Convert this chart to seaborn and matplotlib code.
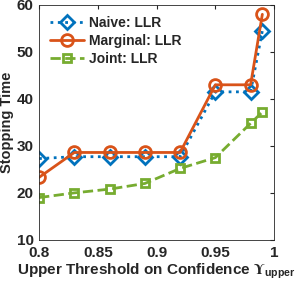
import pandas as pd
import matplotlib.pyplot as plt
import seaborn as sns

# Values
thresholds = [0.80, 0.83, 0.86, 0.89, 0.92, 0.95, 0.98, 0.99]
naive_llr = [27.3, 27.7, 27.7, 27.7, 27.7, 41.5, 41.5, 54.5]
marginal_llr = [23.3, 28.6, 28.6, 28.6, 28.6, 43.0, 43.0, 58.0]
joint_llr = [19.0, 20.0, 20.8, 22.0, 25.2, 27.5, 34.8, 37.2]

series = {
    'Naive: LLR': naive_llr,
    'Marginal: LLR': marginal_llr,
    'Joint: LLR': joint_llr,
}
styles = {
    'Naive: LLR': dict(color=(0.0, 0.447, 0.741), marker='D', linestyle=':', markersize=7.5),
    'Marginal: LLR': dict(color=(0.85, 0.325, 0.098), marker='o', linestyle='-', markersize=8.5),
    'Joint: LLR': dict(color=(0.466, 0.674, 0.188), marker='s', linestyle='--', markersize=6),
}

sns.set_style('white')
plt.rcParams['font.family'] = ['Liberation Sans', 'DejaVu Sans']
plt.rcParams['font.weight'] = 'bold'
plt.rcParams['mathtext.fontset'] = 'custom'
plt.rcParams['mathtext.rm'] = 'STIXGeneral:bold'
plt.rcParams['mathtext.sf'] = 'Liberation Sans:bold'

fig = plt.figure(figsize=(2.96, 2.89), dpi=100)
ax = fig.add_axes([0.132, 0.170, 0.794, 0.813])

for name, vals in series.items():
    df = pd.DataFrame({'x': thresholds, 'y': vals})
    st = styles[name]
    sns.lineplot(data=df, x='x', y='y', ax=ax, label=name, color=st['color'],
                 marker=st['marker'], linestyle=st['linestyle'], markersize=st['markersize'],
                 linewidth=2, markerfacecolor='none', markeredgecolor=st['color'],
                 markeredgewidth=2)

ax.set_xlim(0.8, 1.0)
ax.set_ylim(10, 60)
ax.set_xticks([0.8, 0.85, 0.9, 0.95, 1.0])
ax.set_xticklabels(['0.8', '0.85', '0.9', '0.95', '1'])
ax.set_yticks([10, 20, 30, 40, 50, 60])
ax.tick_params(direction='in', top=True, right=True, length=3, labelsize=11,
               color='#262626', labelcolor='#262626')
ax.tick_params(axis='x', pad=4.5)
ax.tick_params(axis='y', pad=4)
for s in ax.spines.values():
    s.set_color('#262626')
    s.set_linewidth(0.6)

ax.set_xlabel(r'Upper Threshold on Confidence $\Upsilon_{\mathsf{upper}}$',
              fontsize=11, fontweight='bold', color='#262626', labelpad=1)
ax.set_ylabel('Stopping Time', fontsize=10.5, fontweight='bold', color='#262626', labelpad=2)

leg = ax.legend(loc='upper left', frameon=False, fontsize=10, handlelength=2.4,
                borderaxespad=0.4, handletextpad=0.4, labelspacing=0.3)
for t in leg.get_texts():
    t.set_fontweight('bold')
    t.set_color('#262626')

fig.savefig('out.png', dpi=100)
